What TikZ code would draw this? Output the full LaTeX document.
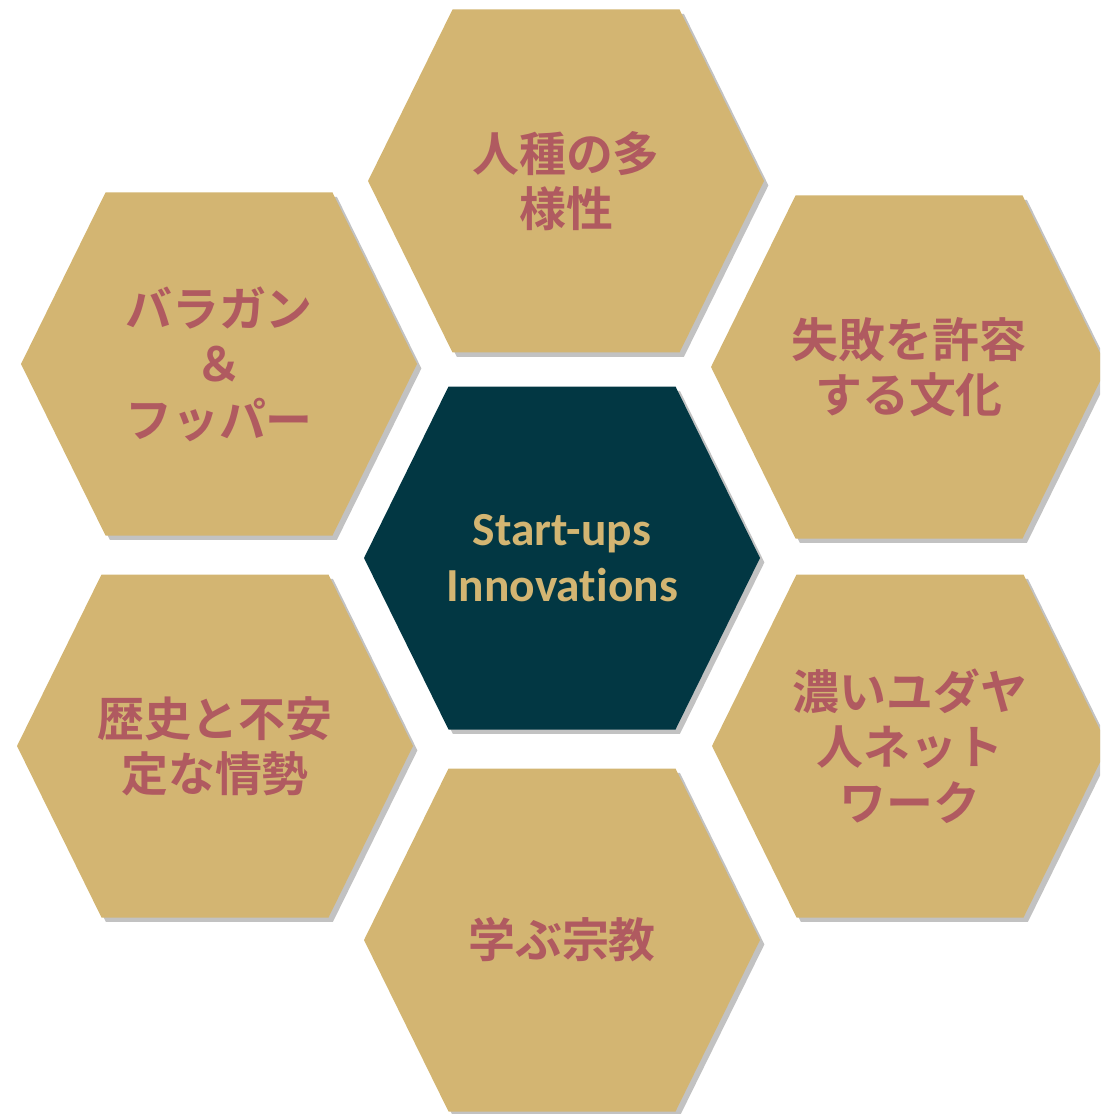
\documentclass[tikz,border=0pt]{standalone}
\usepackage{fontspec}
\usetikzlibrary{shadows}
\newfontfamily\cjk{Noto Sans CJK JP}[BoldFont={Noto Sans CJK JP Bold}]
\newfontfamily\calibri{Carlito}[Ligatures=NoCommon]
\definecolor{honey}{HTML}{D3B572}
\definecolor{wine}{HTML}{B05A60}
\definecolor{deepteal}{HTML}{023743}
\tikzset{
every node/.style={align=center, inner sep=0pt},
cell/.style={fill=honey, drop shadow={shadow xshift=2.5pt, shadow yshift=-2.5pt, fill=black!40, opacity=0.6}},
core/.style={cell, fill=deepteal},
jptext/.style={text=wine, font=\cjk\bfseries\fontsize{26.7}{31.5}\selectfont},
entext/.style={text=honey, font=\calibri\bfseries\fontsize{27}{32}\selectfont}
}
% one hexagon: style, centre, node name, text style, text
\newcommand\honeycell[5]{%
  \fill[#1] (#2) ++(-198,0) -- ++(84.5,-171.5) -- ++(227,0) -- ++(84.5,171.5)
    -- ++(-84.5,171.5) -- ++(-227,0) -- cycle;
  \node[#4] (#3) at (#2) {#5};
}

\begin{document}
\begin{tikzpicture}[x=0.02cm, y=-0.02cm]
\clip (0,0) rectangle (1100,1114);

\honeycell{cell}{566,181}{diversity}{jptext}{人種の多\\様性}
\honeycell{cell}{219,364}{bargain}{jptext}{バラガン\\＆\\フッパー}
\honeycell{cell}{909,367}{failure}{jptext}{失敗を許容\\する文化}
\honeycell{core}{562,558}{startups}{entext}{Start-ups\\Innovations}
\honeycell{cell}{215,746}{history}{jptext}{歴史と不安\\定な情勢}
\honeycell{cell}{910,746}{network}{jptext}{濃いユダヤ\\人ネット\\ワーク}
\honeycell{cell}{562,940}{religion}{jptext}{学ぶ宗教}
\end{tikzpicture}
\end{document}
